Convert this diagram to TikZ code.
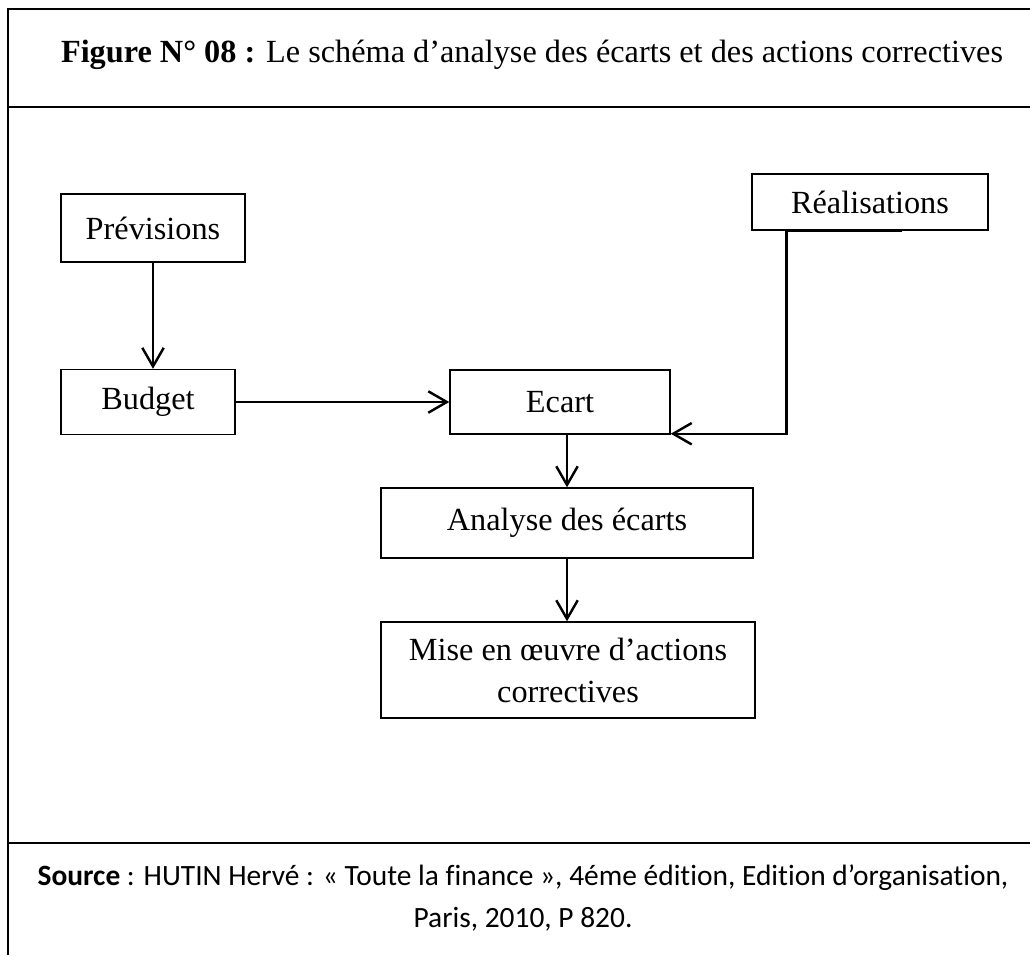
\documentclass[tikz,border=0pt]{standalone}
\usepackage{fontspec}
\setmainfont{Liberation Serif}
\newfontfamily\sourcefont[Ligatures=NoCommon]{Carlito}
\usetikzlibrary{arrows.meta,calc}
\newcommand{\pix}{0.35pt}

\begin{document}
\begin{tikzpicture}[x=\pix,y=-\pix,
    boite/.style={draw,line width=0.5pt,inner sep=0pt,align=center,
      font=\fontsize{11.3}{14.7}\selectfont},
    fleche/.style={arrows={-Straight Barb[length=6.5pt,width=7.5pt]},line width=0.85pt},
    cadre/.style={line width=0.7pt}]
  \useasboundingbox (0,0) rectangle (1030,955);
  \draw[cadre] (8,955) -- (8,9) -- (1030,9);
  \draw[cadre] (8,107) -- (1030,107);
  \draw[cadre] (8,843) -- (1030,843);
  \node[anchor=base,font=\fontsize{11.3}{13}\selectfont] (titre) at (532,62)
    {\textbf{Figure N° 08 :} Le schéma d’analyse des écarts et des actions correctives};

  \node[boite,minimum width=184*\pix,minimum height=68*\pix] (prev) at (153,228) {Prévisions};
  \node[boite,minimum width=174*\pix,minimum height=65*\pix] (budget) at (148,402) {Budget};
  \node[boite,minimum width=220*\pix,minimum height=64*\pix] (ecart) at (560,402) {Ecart};
  \node[boite,minimum width=236*\pix,minimum height=56*\pix] (real) at (870,202) {Réalisations};
  \node[boite,minimum width=372*\pix,minimum height=70*\pix] (analyse) at (567,523) {Analyse des écarts};
  \node[boite,minimum width=374*\pix,minimum height=96*\pix] (mise) at (568,670)
    {Mise en œuvre d’actions\\correctives};

  \draw[fleche] (prev.south) -- (prev.south |- budget.north);
  \draw[fleche] (budget.east) -- (budget.east -| ecart.west);
  \draw[fleche] (ecart.south -| analyse.north) -- (analyse.north);
  \draw[fleche] (analyse.south) -- (analyse.south |- mise.north);
  \draw[fleche] ($(real.south west)+(151,0)$) -- ($(real.south west)+(35,0)$)
    |- ($(ecart.south east)+(0,-1)$);

  \node[align=center,font=\sourcefont\fontsize{10.3}{15}\selectfont] (source) at (523,898)
    {\textbf{Source} : HUTIN Hervé : « Toute la finance », 4éme édition, Edition d’organisation,\\
     Paris, 2010, P 820.};
\end{tikzpicture}
\end{document}
